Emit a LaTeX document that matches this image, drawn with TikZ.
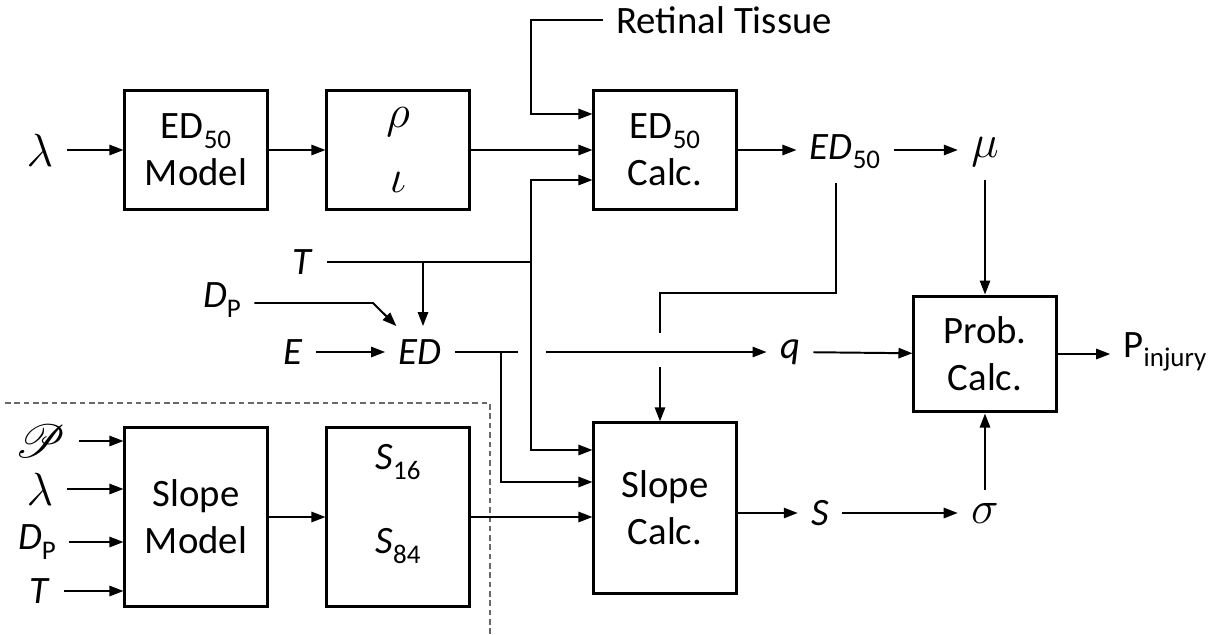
\documentclass[tikz,border=0pt]{standalone}
\usepackage{amsmath}
\usepackage{mathrsfs}
\usepackage{fontspec}
\setmainfont{Carlito}
\usetikzlibrary{arrows.meta, positioning, calc}
\definecolor{palink}{RGB}{0,0,0}
\definecolor{palgray}{RGB}{105,105,105}
\newcommand{\lowsub}[1]{\raisebox{-0.5ex}{\fontsize{14.4}{16}\selectfont #1}}
\newcommand{\bigsym}[1]{{\Huge$#1$}}
\tikzset{
  block/.style={
    draw=palink,
    line width=1.6pt,
    align=center,
    minimum width=2.67cm,
    minimum height=2.24cm,
    inner sep=2pt,
    font=\huge,
    text=palink
  },
  tallblock/.style={block, minimum height=3.38cm},
  lbl/.style={inner sep=7pt, font=\huge, text=palink},
  arrow/.style={-{Triangle[length=7.5pt,width=5.5pt]}, line width=1.05pt, draw=palink},
  wire/.style={line width=1.05pt, draw=palink},
  zone/.style={draw=palgray, dashed, dash pattern=on 3pt off 2pt, line width=0.6pt}
}

\begin{document}
\begin{tikzpicture}[x=0.0188cm, y=-0.0188cm]
        \useasboundingbox (0,0) rectangle (1227,634);
        \draw[zone] (5,403) -| (490,634);

        \node[block] (edm) at (196,150) {ED\lowsub{50}\\Model};
        \node[block] (rho) at (398,150) {\bigsym{\rho}\\[10pt]\bigsym{\iota}};
        \node[block] (edc) at (665,150) {ED\lowsub{50}\\Calc.};
        \node[tallblock] (smod) at (196,517) {Slope\\Model};
        \node[tallblock] (sbox) at (398,517) {\textit{S}\lowsub{16}\\[20pt]\textit{S}\lowsub{84}\\[-6pt]};
        \node[block, minimum height=3.2cm] (scalc) at (665,508) {Slope\\Calc.};
        \node[block, minimum height=2.18cm] (prob) at (985,354) {Prob.\\Calc.};

        \node[lbl] (lamA) at (40,150) {\bigsym{\lambda}};
        \node[lbl, anchor=west] (ret) at (603,20) {Retinal Tissue};
        \node[lbl] (ed50) at (845,152) {\textit{ED}\lowsub{50}};
        \node[lbl] (mu) at (985,152) {\bigsym{\mu}};
        \node[lbl] (tA) at (303,262) {\textit{T}};
        \node[lbl] (dpA) at (222,300) {\textit{D}\lowsub{P}};
        \node[lbl] (eA) at (293,352) {\textit{E}};
        \node[lbl] (ed) at (420,352) {\textit{ED}};
        \node[lbl] (q) at (790,352) {\textit{q}};
        \node[lbl] (pinj) at (1165,352) {P\lowsub{injury}};
        \node[lbl] (s) at (820,513) {\textit{S}};
        \node[lbl] (sg) at (985,513) {\bigsym{\sigma}};
        \node[lbl] (pB) at (40,441) {\bigsym{\boldsymbol{\mathscr{P}}}};
        \node[lbl] (lamB) at (40,489) {\bigsym{\lambda}};
        \node[lbl] (dpB) at (37,542) {\textit{D}\lowsub{P}};
        \node[lbl] (tB) at (40,591) {\textit{T}};

        \coordinate (rjoin) at (531,114);
        \coordinate (tjoin) at (531,262);
        \coordinate (tdrop) at (423,262);
        \coordinate (dbend) at (373,303);
        \coordinate (edtap) at (501,352);
        \coordinate (gapl) at (518,352);
        \coordinate (gapr) at (546,352);
        \coordinate (ebend) at (836,293);
        \coordinate (egapa) at (660,333);
        \coordinate (egapb) at (660,367);

        \draw[arrow] (lamA) -- (edm);
        \draw[arrow] (edm) -- (rho);
        \draw[arrow] (rho) -- (edc);
        \draw[arrow] (ret.west) -| (rjoin) -- (edc.west |- rjoin);
        \draw[arrow] (edc) -- (edc -| ed50.west);
        \draw[arrow] (ed50.east |- edc) -- (edc -| mu.west);
        \draw[arrow] (mu) -- (prob);

        \draw[wire] (tA) -- (tjoin);
        \draw[arrow] (tjoin) |- ($(edc.west)+(0,30)$);
        \draw[arrow] (tjoin) |- ($(scalc.west)+(0,-58)$);
        \draw[arrow] (tdrop) -- (ed.north -| tdrop);
        \draw[arrow] (dpA.east |- dbend) -- (dbend) -- ([xshift=6pt]ed.north west);
        \draw[arrow] (eA) -- (ed);

        \draw[wire] (ed) -- (gapl);
        \draw[arrow] (gapr) -- (q);
        \draw[arrow] (edtap) |- ($(scalc.west)+(0,-26)$);
        \draw[wire] (ed50.south -| ebend) -- (ebend) -| (egapa);
        \draw[arrow] (egapb) -- (scalc.north -| egapb);

        \draw[arrow] (q) -- (prob);
        \draw[arrow] (prob) -- (prob -| pinj.west);
        \draw[arrow] (scalc.east |- s) -- (s);
        \draw[arrow] (s) -- (sg);
        \draw[arrow] (sg) -- (prob);

        \draw[arrow] (pB.east) -- (smod.west |- pB.east);
        \draw[arrow] (lamB.east) -- (smod.west |- lamB.east);
        \draw[arrow] (dpB.east) -- (smod.west |- dpB.east);
        \draw[arrow] (tB.east) -- (smod.west |- tB.east);
        \draw[arrow] (smod) -- (sbox);
        \draw[arrow] (sbox) -- (scalc.west |- sbox);
      \end{tikzpicture}
\end{document}
